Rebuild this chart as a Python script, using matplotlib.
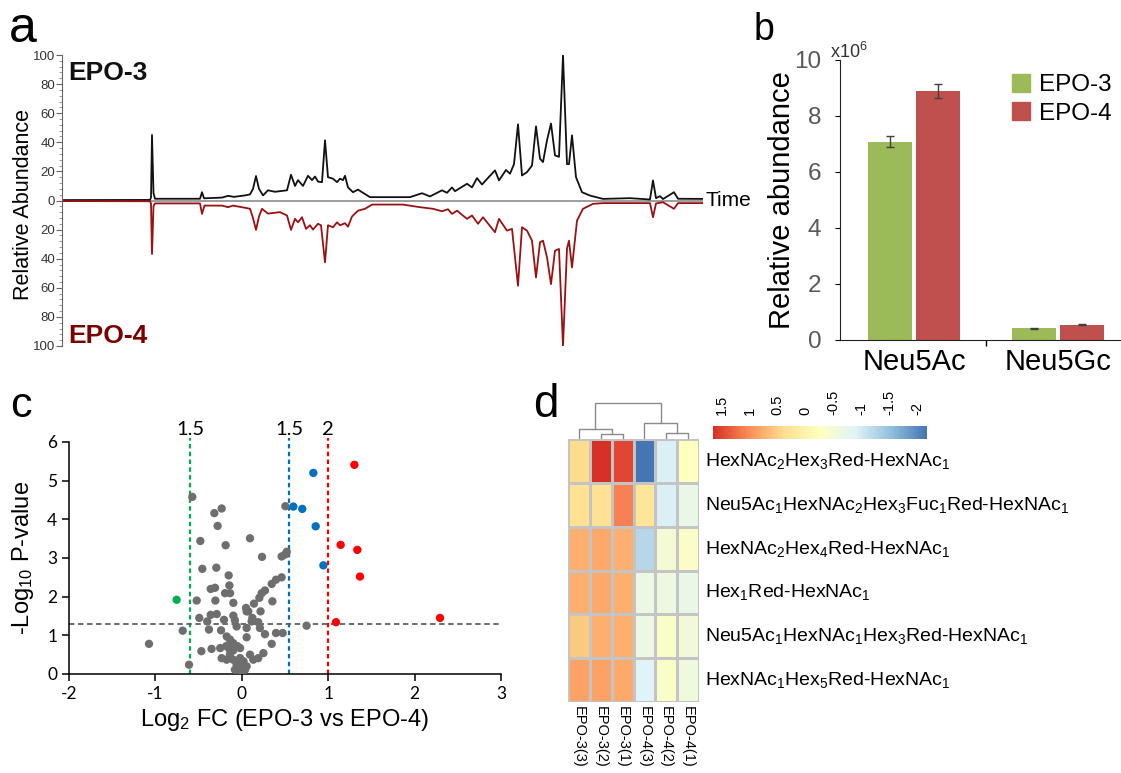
import numpy as np
import matplotlib
matplotlib.use("Agg")
import matplotlib.pyplot as plt
from matplotlib.colors import LinearSegmentedColormap, Normalize
from matplotlib.patches import Patch
from matplotlib.transforms import blended_transform_factory
import matplotlib.cm as cm

plt.rcParams['font.family'] = ['Liberation Sans', 'DejaVu Sans']
plt.rcParams['mathtext.fontset'] = 'custom'
plt.rcParams['mathtext.rm'] = 'Liberation Sans'
plt.rcParams['mathtext.it'] = 'Liberation Sans:italic'
plt.rcParams['mathtext.bf'] = 'Liberation Sans:bold'
plt.rcParams['axes.unicode_minus'] = False

# ---------------- Panel a data: chromatograms (time, relative abundance) -------------
epo3_time = [0.0, 8.8, 8.9, 9.0, 9.15, 9.3, 13.8, 14.0, 14.2, 16.0,
             16.6, 17.2, 18.3, 18.8, 19.1, 19.4, 19.7, 20.1, 20.6, 21.3,
             22.5, 22.9, 23.3, 23.6, 24.1, 24.6, 25.0, 25.3, 25.6, 26.0,
             26.3, 26.6, 27.1, 27.5, 27.8, 28.1, 28.3, 28.6, 29.1, 29.6,
             30.0, 30.8, 34.8, 36.0, 36.8, 38.0, 38.5, 39.0, 39.3, 40.5,
             41.0, 41.5, 42.0, 42.8, 43.3, 43.7, 44.4, 44.8, 45.2, 45.6,
             46.0, 46.5, 47.0, 47.4, 47.8, 48.1, 48.5, 48.9, 49.3, 49.7,
             50.1, 50.5, 50.7, 51.0, 51.4, 52.0, 52.8, 54.1, 56.8, 58.8,
             59.1, 59.4, 59.8, 60.1, 61.2, 61.6, 64.1]
epo3_abund = [0.3, 0.4, 2.0, 45.0, 5.0, 1.2, 1.2, 5.7, 1.5, 2.0,
              3.2, 2.5, 3.5, 4.2, 8.0, 16.8, 8.0, 3.5, 7.0, 6.0,
              7.0, 17.7, 10.0, 14.0, 10.0, 17.0, 14.0, 16.5, 13.0, 12.6,
              41.4, 16.0, 15.0, 12.6, 15.0, 14.0, 17.0, 9.0, 5.7, 7.5,
              5.7, 2.3, 2.3, 5.0, 2.8, 7.0, 5.3, 9.0, 6.4, 11.5,
              9.0, 15.4, 11.0, 17.0, 20.7, 13.8, 21.0, 18.4, 25.0, 52.4,
              17.2, 19.5, 24.0, 51.0, 28.7, 26.4, 41.4, 52.9, 31.0, 30.0,
              100.0, 25.0, 25.0, 44.8, 16.0, 5.7, 3.4, 1.1, 1.6, 0.7,
              13.8, 1.6, 3.0, 1.0, 5.7, 1.2, 1.1]

epo4_time = [0.0, 8.8, 8.9, 9.0, 9.15, 9.3, 13.8, 14.0, 14.25, 16.0,
             16.6, 17.1, 18.3, 18.8, 19.1, 19.4, 19.7, 20.0, 20.6, 21.8,
             22.5, 22.9, 23.3, 23.6, 24.0, 24.4, 24.8, 25.1, 25.6, 25.9,
             26.3, 26.6, 27.1, 27.5, 27.8, 28.3, 28.6, 29.0, 29.6, 30.3,
             31.0, 34.1, 35.8, 37.1, 38.0, 38.6, 39.0, 39.5, 40.5, 41.0,
             41.6, 42.1, 43.3, 43.7, 44.5, 45.0, 45.6, 46.0, 46.5, 47.0,
             47.4, 47.8, 48.1, 48.5, 48.9, 49.3, 49.7, 50.1, 50.5, 50.7,
             51.0, 51.5, 52.1, 53.1, 54.1, 58.8, 59.1, 59.4, 60.1, 61.2,
             61.6, 64.1]
epo4_abund = [0.4, 0.5, 2.0, 36.8, 4.0, 2.0, 2.0, 9.2, 3.5, 3.5,
              4.6, 3.5, 5.0, 5.7, 12.0, 20.2, 11.0, 5.7, 9.0, 8.0,
              10.3, 20.2, 12.6, 15.0, 11.5, 19.5, 17.0, 20.0, 16.0, 17.0,
              42.5, 17.0, 18.4, 15.0, 17.0, 15.6, 18.0, 11.0, 7.0, 5.7,
              2.8, 2.8, 4.6, 5.7, 7.4, 6.0, 9.2, 7.0, 12.6, 10.3,
              16.0, 11.5, 21.8, 12.6, 20.7, 19.5, 58.6, 18.4, 20.7, 27.6,
              52.9, 28.7, 27.6, 39.0, 57.5, 34.5, 33.3, 100.0, 33.0, 27.6,
              46.0, 13.8, 5.7, 2.3, 1.8, 1.8, 11.5, 2.0, 1.2, 5.7,
              1.8, 1.8]

# ---------------- Panel b data ----------------
sialic = ["Neu5Ac", "Neu5Gc"]
b_epo3 = [7.08, 0.42]
b_epo3_err = [0.20, 0.02]
b_epo4 = [8.88, 0.55]
b_epo4_err = [0.25, 0.03]

# ---------------- Panel c data (volcano) ----------------
gray_fc = [-0.573, -0.318, -0.233, -0.28, -0.48, -0.187, 0.095, 0.504, 0.234, -0.457,
           -0.295, -0.152, -0.144, -0.36, -0.31, -0.194, -0.136, -0.522, -0.306, -0.098,
           -0.492, -0.36, -0.29, -0.40, -0.38, -0.684, -0.24, -0.206, -0.098, -0.08,
           -0.06, -0.175, -0.137, -0.10, -0.05, -0.18, -0.14, -0.10, -0.02, 0.056,
           -0.35, -0.25, -0.468, -1.074, -0.611, -0.233, -0.175, -0.02, 0.095, 0.133,
           0.19, 0.25, 0.346, 0.396, 0.473, 0.268, 0.21, 0.114, 0.056, 0.19,
           0.217, 0.122, 0.075, 0.056, 0.049, 0.141, 0.203, 0.23, 0.268, 0.346,
           0.396, 0.461, 0.354, 0.461, 0.50, 0.52, 0.75, 0.037, -0.002, -0.02,
           -0.08, 0.056, -0.06, -0.10, -0.137, 0.02]
gray_p = [4.58, 4.16, 4.28, 3.83, 3.44, 3.33, 3.51, 4.34, 3.03, 2.72,
          2.75, 2.55, 2.29, 2.20, 2.23, 2.09, 2.09, 1.90, 1.90, 1.84,
          1.45, 1.53, 1.55, 1.36, 1.15, 1.12, 1.13, 1.40, 1.51, 1.39,
          1.23, 0.97, 0.89, 0.80, 0.72, 0.72, 0.63, 0.61, 0.67, 0.95,
          0.65, 0.67, 0.59, 0.78, 0.24, 0.41, 0.37, 0.41, 0.50, 0.37,
          0.41, 0.54, 0.78, 1.06, 1.06, 1.03, 1.19, 1.36, 1.19, 1.34,
          1.62, 1.45, 1.62, 1.62, 1.71, 1.82, 1.97, 2.09, 2.16, 2.33,
          2.44, 2.50, 1.88, 3.04, 3.09, 3.16, 1.25, 0.11, 0.04, 0.20,
          0.11, 0.20, 0.24, 0.37, 0.50, 0.33]
red_fc = [1.303, 1.144, 1.337, 1.368, 1.09, 2.294]
red_p = [5.41, 3.34, 3.21, 2.52, 1.34, 1.45]
blue_fc = [0.828, 0.596, 0.70, 0.855, 0.944]
blue_p = [5.20, 4.33, 4.27, 3.82, 2.81]
green_fc = [-0.754]
green_p = [1.92]
thr_fc = [-0.60, 0.55, 1.0]
thr_labels = ["1.5", "1.5", "2"]
thr_colors = ["#00B050", "#0070C0", "#FF0000"]
thr_p = 1.3

# ---------------- Panel d data (heatmap) ----------------
samples = ["EPO-3(3)", "EPO-3(2)", "EPO-3(1)", "EPO-4(3)", "EPO-4(2)", "EPO-4(1)"]
glycans = [r"HexNAc$_2$Hex$_3$Red-HexNAc$_1$",
           r"Neu5Ac$_1$HexNAc$_2$Hex$_3$Fuc$_1$Red-HexNAc$_1$",
           r"HexNAc$_2$Hex$_4$Red-HexNAc$_1$",
           r"Hex$_1$Red-HexNAc$_1$",
           r"Neu5Ac$_1$HexNAc$_1$Hex$_3$Red-HexNAc$_1$",
           r"HexNAc$_1$Hex$_5$Red-HexNAc$_1$"]
row1 = [0.40, 1.66, 1.50, -2.18, -0.95, -0.25]
row2 = [0.35, 0.35, 1.10, 0.25, -0.95, -0.70]
row3 = [0.75, 0.80, 0.75, -1.25, -0.50, -0.35]
row4 = [0.75, 0.80, 0.75, -0.65, -0.65, -0.70]
row5 = [0.55, 0.75, 0.75, -0.65, -0.35, -0.55]
row6 = [0.85, 0.85, 0.80, -0.90, -0.35, -0.60]
# dendrogram merges: left/right child x, child heights, merge height
dend_left = [1.5, 0.5, 4.5, 3.5, 1.25]
dend_right = [2.5, 2.0, 5.5, 5.0, 4.25]
dend_hl = [0.0, 0.0, 0.0, 0.0, 1.43]
dend_hr = [0.0, 0.71, 0.0, 0.86, 2.29]
dend_h = [0.71, 1.43, 0.86, 2.29, 5.0]
cbar_ticks = [1.5, 1, 0.5, 0, -0.5, -1, -1.5, -2]

# ---------------- Figure ----------------
W, H = 1121, 773
fig = plt.figure(figsize=(W / 100, H / 100), dpi=100)


def rect(x0, y0, x1, y1):
    return [x0 / W, 1 - y1 / H, (x1 - x0) / W, (y1 - y0) / H]


def P(x, y):
    return (x / W, 1 - y / H)


# ===== Panel a =====
axa = fig.add_axes(rect(62, 55, 703, 346))
axa.plot(epo3_time, epo3_abund, color="#111111", lw=1.3)
axa.plot(epo4_time, -np.array(epo4_abund), color="#9B1111", lw=1.3)
axa.axhline(0, color="#8c8c8c", lw=1.2, zorder=0)
axa.set_xlim(0, 64.1)
axa.set_ylim(-100, 100)
for s in ["top", "right", "bottom"]:
    axa.spines[s].set_visible(False)
axa.spines["left"].set_color("#666666")
axa.set_xticks([])
yt = np.arange(-100, 101, 20)
axa.set_yticks(yt)
axa.set_yticklabels([str(abs(v)) for v in yt], fontsize=9.5, color="#333333")
axa.set_yticks(np.arange(-100, 101, 4), minor=True)
axa.tick_params(axis="y", which="major", length=4, width=0.8, color="#666666", pad=1)
axa.tick_params(axis="y", which="minor", length=2.5, width=0.6, color="#888888")
fig.text(*P(68, 80), "EPO-3", fontsize=19, fontweight="bold", color="#111111", va="baseline")
fig.text(*P(68, 343), "EPO-4", fontsize=19, fontweight="bold", color="#7B0000", va="baseline")
fig.text(*P(706, 200), "Time", fontsize=15, va="center", ha="left")
fig.text(*P(24, 205), "Relative Abundance", fontsize=15.5, rotation=90, va="center", ha="center")
fig.text(*P(9, 42), "a", fontsize=36, va="baseline", ha="left")

# ===== Panel b =====
axb = fig.add_axes(rect(840, 60, 1121, 340))
xb = np.arange(len(sialic))
off, bw = 0.165, 0.305
axb.bar(xb - off, b_epo3, bw, color="#9BBB59", yerr=b_epo3_err,
        error_kw=dict(ecolor="#404040", capsize=3, elinewidth=1, capthick=1), label="EPO-3")
axb.bar(xb + off, b_epo4, bw, color="#C0504D", yerr=b_epo4_err,
        error_kw=dict(ecolor="#404040", capsize=3, elinewidth=1, capthick=1), label="EPO-4")
axb.set_xlim(-0.514, 1.4375)
axb.set_ylim(0, 10)
for s in ["top", "right"]:
    axb.spines[s].set_visible(False)
axb.spines["left"].set_color("#222222")
axb.spines["bottom"].set_color("#222222")
axb.set_yticks(np.arange(0, 11, 2))
axb.tick_params(axis="y", labelsize=17.5, labelcolor="#595959", length=3.5, direction="out", pad=10)
axb.set_xticks(xb)
axb.set_xticklabels(sialic, fontsize=21)
axb.tick_params(axis="x", which="major", length=0, pad=6)
axb.set_xticks([0.5], minor=True)
axb.tick_params(axis="x", which="minor", length=4, width=1)
axb.set_ylabel("Relative abundance", fontsize=21)
axb.yaxis.set_label_coords((796 - 840) / 281, 0.5)
fig.text(*P(830, 58), r"x10$^6$", fontsize=13, color="#333333", va="baseline")
axb.legend(handles=[Patch(color="#9BBB59", label="EPO-3"), Patch(color="#C0504D", label="EPO-4")],
           loc="upper left", bbox_to_anchor=P(1012, 74), bbox_transform=fig.transFigure,
           frameon=False, fontsize=17.5, handlelength=0.75, handleheight=0.75,
           handletextpad=0.35, labelspacing=0.25, borderpad=0, borderaxespad=0)
fig.text(*P(754, 40), "b", fontsize=27, va="baseline", ha="left")

# ===== Panel c =====
axc = fig.add_axes(rect(69, 442, 501, 674))
axc.scatter(gray_fc, gray_p, s=36, color="#6e6e6e", edgecolors="none", zorder=3)
axc.scatter(red_fc, red_p, s=36, color="#FF0000", edgecolors="none", zorder=3)
axc.scatter(blue_fc, blue_p, s=36, color="#0070C0", edgecolors="none", zorder=3)
axc.scatter(green_fc, green_p, s=36, color="#00B050", edgecolors="none", zorder=3)
tr = blended_transform_factory(axc.transData, axc.transAxes)
for xv, lab, c in zip(thr_fc, thr_labels, thr_colors):
    axc.plot([xv, xv], [0, 6.1], color=c, lw=1.6, ls=(0, (2, 1.5)), clip_on=False, zorder=2)
    axc.text(xv, 1.03, lab, transform=tr, ha="center", va="baseline", fontsize=14.5,
             family=["Lato", "DejaVu Sans"])
axc.plot([-2, 3], [thr_p, thr_p], color="#606060", lw=1.3, ls=(0, (3, 2)), zorder=2)
axc.set_xlim(-2, 3)
axc.set_ylim(0, 6)
for s in ["top", "right"]:
    axc.spines[s].set_visible(False)
axc.spines["left"].set_linewidth(1.1)
axc.spines["bottom"].set_linewidth(1.1)
axc.set_xticks(np.arange(-2, 4, 1))
axc.set_yticks(np.arange(0, 7, 1))
axc.tick_params(axis="both", labelsize=12.5, length=5, width=1.1, direction="out")
for lab in axc.get_xticklabels() + axc.get_yticklabels():
    lab.set_family(["Lato", "DejaVu Sans"])
fig.text(*P(23, 558), r"-Log$_{10}$ P-value", fontsize=17, rotation=90, va="center", ha="center")
fig.text(*P(285, 720), r"Log$_2$ FC (EPO-3 vs EPO-4)", fontsize=17, va="center", ha="center")
fig.text(*P(10, 417), "c", fontsize=31, va="baseline", ha="left")

# ===== Panel d =====
mat = np.array([row1, row2, row3, row4, row5, row6])
cmap = LinearSegmentedColormap.from_list(
    "rdylbu", ["#4575B4", "#91BFDB", "#E0F3F8", "#FFFFBF", "#FEE090", "#FC8D59", "#D73027"])
norm = Normalize(vmin=mat.min(), vmax=mat.max())
axd = fig.add_axes(rect(568, 439, 699, 702))
axd.pcolormesh(np.arange(7), np.arange(7), mat, cmap=cmap, norm=norm,
               edgecolors="#c4c4c4", linewidth=0.8)
axd.set_xlim(0, 6)
axd.set_ylim(6, 0)
axd.axis("off")
for i, g in enumerate(glycans):
    axd.annotate(g, (6, i + 0.5), xytext=(4, 0), textcoords="offset points",
                 va="center", ha="left", fontsize=14, annotation_clip=False)
for j, sname in enumerate(samples):
    axd.annotate(sname, (j + 0.5, 6), xytext=(0, -3), textcoords="offset points",
                 va="top", ha="center", rotation=270, fontsize=10.5, annotation_clip=False)

axden = fig.add_axes(rect(568, 402, 699, 439))
for xl, xr, hl, hr, h in zip(dend_left, dend_right, dend_hl, dend_hr, dend_h):
    axden.plot([xl, xl, xr, xr], [hl, h, h, hr], color="#8a8a8a", lw=1)
axden.set_xlim(0, 6)
axden.set_ylim(0, 5.2)
axden.axis("off")

cax = fig.add_axes(rect(713, 426, 927, 439))
sm = cm.ScalarMappable(norm=norm, cmap=cmap)
cb = fig.colorbar(sm, cax=cax, orientation="horizontal")
cb.outline.set_visible(False)
cax.invert_xaxis()
cax.xaxis.set_ticks_position("top")
cb.set_ticks(cbar_ticks)
cb.set_ticklabels([("%g" % v) for v in cbar_ticks])
cax.tick_params(axis="x", length=0, pad=8, labelsize=10.5, rotation=90)
fig.text(*P(533, 417), "d", fontsize=33, va="baseline", ha="left")

fig.savefig("out.png", dpi=100)
